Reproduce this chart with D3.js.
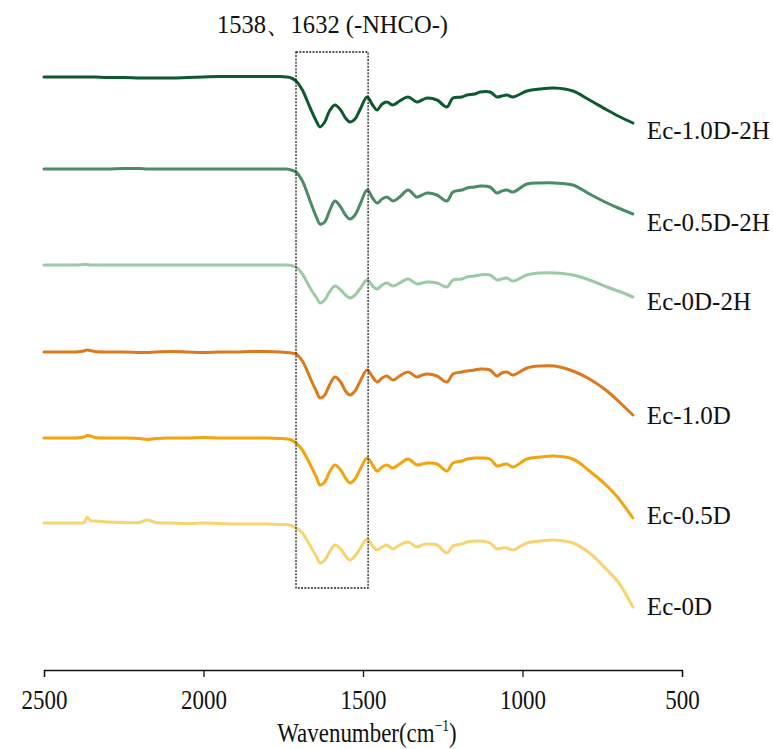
<!DOCTYPE html>
<html>
<head>
<meta charset="utf-8">
<script src="https://cdn.jsdelivr.net/npm/d3@7"></script>
<style>
  html, body { margin: 0; padding: 0; background: #fff; }
  svg { display: block; }
  text { font-family: "Liberation Serif", "Times New Roman", serif; fill: #111; }
</style>
</head>
<body>
<svg id="chart" width="773" height="749"></svg>
<script>
// FTIR spectra, offset-stacked (transmittance, arbitrary units)
const wavenumbers = [
  2500, 2450, 2400, 2375, 2365, 2355, 2340, 2300, 2250, 2200,
  2177, 2150, 2100, 2050, 2000, 1950, 1900, 1850, 1800, 1760,
  1740, 1725, 1710, 1690, 1676, 1660, 1645, 1635, 1620, 1605,
  1588, 1570, 1555, 1541, 1525, 1510, 1487, 1470, 1456, 1440,
  1425, 1406, 1385, 1359, 1331, 1315, 1299, 1268, 1237, 1218,
  1190, 1174, 1150, 1133, 1102, 1080, 1065, 1049, 1030, 986,
  945, 900, 842, 790, 735, 700, 654
];

const seriesNames = ["Ec-1.0D-2H", "Ec-0.5D-2H", "Ec-0D-2H", "Ec-1.0D", "Ec-0.5D", "Ec-0D"];
const seriesOffsets = [56.3, 47.1, 37.5, 28.8, 20.2, 11.7];
const seriesColors = ["#0e5a30", "#4c8b67", "#9ccaa4", "#db7a1b", "#f3a30e", "#f8d36e"];

const ec10D2H = [
  0, 0, 0, 0, 0, 0, 0, -0.05, -0.05, -0.1, -0.1, -0.1, -0.1, -0.05, 0, 0.05, 0.05, 0.05, 0.05, 0.05,
  0, -0.1, -0.4, -1.3, -2.3, -3.5, -4.5, -5.0, -4.5, -3.4,
  -2.8, -3.3, -4.1, -4.5, -4.2, -3.3, -2.0, -2.8, -3.3, -2.7,
  -2.5, -2.8, -2.4, -2.0, -2.5, -2.3, -2.1, -2.3, -3.0, -2.1,
  -2.0, -1.8, -1.7, -1.5, -1.5, -2.0, -1.9, -1.8, -2.0, -1.4,
  -1.2, -1.1, -1.4, -2.3, -3.3, -3.9, -4.6
];
const ec05D2H = [
  0, 0, 0, 0, 0, 0, 0, 0, 0.05, 0.05, 0, 0, 0, 0, 0, 0, 0, 0, 0, 0,
  0, -0.1, -0.3, -1.2, -2.3, -3.7, -4.9, -5.5, -5.3, -4.2,
  -3.2, -3.8, -4.6, -5.0, -4.6, -3.6, -2.1, -2.9, -3.4, -3.0,
  -2.8, -3.2, -2.8, -2.1, -2.8, -2.6, -2.4, -2.6, -3.2, -2.3,
  -2.1, -1.9, -1.8, -1.7, -1.8, -2.4, -2.2, -2.1, -2.3, -1.5,
  -1.4, -1.4, -1.6, -2.5, -3.4, -3.9, -4.5
];
const ec0D2H = [
  0, 0, 0, 0.05, 0.05, 0, 0, 0, 0, 0, 0, 0, 0, 0, 0, 0, 0, 0, 0, 0,
  0, -0.05, -0.2, -0.9, -1.7, -2.6, -3.3, -3.8, -3.5, -2.7,
  -2.1, -2.5, -3.0, -3.3, -3.0, -2.4, -1.5, -2.1, -2.4, -2.0,
  -1.8, -2.1, -1.8, -1.4, -1.9, -1.8, -1.7, -1.8, -2.2, -1.5,
  -1.4, -1.2, -1.1, -1.0, -1.0, -1.5, -1.4, -1.3, -1.6, -1.0,
  -0.8, -0.8, -1.0, -1.5, -2.2, -2.6, -3.2
];
const ec10D = [
  0, 0, 0, 0.1, 0.2, 0.15, 0.05, 0, 0, -0.05, -0.05, 0, 0.05, 0, -0.05, 0, 0, 0.05, 0.05, 0,
  -0.05, -0.1, -0.2, -0.9, -1.8, -3.0, -4.0, -4.6, -4.3, -3.3,
  -2.5, -3.0, -3.9, -4.3, -3.9, -3.0, -1.8, -2.5, -3.0, -2.6,
  -2.4, -2.8, -2.4, -2.0, -2.5, -2.3, -2.2, -2.4, -3.0, -2.2,
  -2.0, -1.9, -1.8, -1.7, -1.8, -2.4, -2.1, -2.0, -2.3, -1.6,
  -1.4, -1.4, -1.9, -2.7, -3.9, -4.9, -6.3
];
const ec05D = [
  0, 0, 0, 0.1, 0.25, 0.2, 0.05, 0, 0, -0.05, -0.15, -0.05, 0, 0, 0.05, 0, 0, 0, 0, -0.05,
  -0.1, -0.2, -0.5, -1.2, -2.0, -3.0, -4.0, -4.7, -4.4, -3.4,
  -2.7, -3.2, -4.0, -4.5, -4.1, -3.2, -2.0, -2.7, -3.3, -2.9,
  -2.7, -3.0, -2.6, -2.1, -2.7, -2.6, -2.5, -2.6, -3.3, -2.5,
  -2.3, -2.1, -2.0, -2.0, -2.1, -2.8, -2.7, -2.6, -2.9, -2.1,
  -1.9, -1.8, -2.1, -3.3, -4.8, -6.0, -8.0
];
const ec0D = [
  0, 0, 0, 0.05, 0.6, 0.25, 0.2, 0.1, 0.05, 0.05, 0.3, 0.05, 0, -0.05, 0, -0.05, -0.1, -0.1, -0.1, -0.15,
  -0.15, -0.25, -0.5, -1.0, -1.7, -2.6, -3.4, -4.0, -3.7, -2.9,
  -2.2, -2.6, -3.3, -3.7, -3.3, -2.6, -1.6, -2.3, -2.7, -2.4,
  -2.2, -2.6, -2.2, -1.9, -2.4, -2.2, -2.1, -2.2, -3.0, -2.3,
  -2.1, -1.9, -1.8, -1.8, -2.0, -2.6, -2.5, -2.5, -2.7, -2.0,
  -1.8, -1.7, -2.0, -3.0, -4.7, -5.9, -8.4
];
const seriesValues = [ec10D2H, ec05D2H, ec0D2H, ec10D, ec05D, ec0D];

// amide band region highlighted by the dotted frame
const bandRange = [1710, 1484];
const bandLevels = [5.2, 58.8];
const bandLabel = "1538\u30011632 (-NHCO-)";

const xTicks = [2500, 2000, 1500, 1000, 500];
const xTitle = "Wavenumber(cm";
const xTitleSup = "\u22121";

// layout
const svg = d3.select("#chart");
const x = d3.scaleLinear().domain([2500, 500]).range([44, 682]);
const y = d3.scaleLinear().domain([-3, 60]).range([670, 40]);
const labelDy = [16, 17, 13, 9, 6, 8];

// spectra
const line = d3.line()
  .x(d => x(d[0]))
  .y(d => y(d[1]))
  .curve(d3.curveCatmullRom.alpha(0.5));

seriesNames.forEach((name, i) => {
  const pts = wavenumbers.map((w, j) => [w, seriesOffsets[i] + seriesValues[i][j]]);
  svg.append("path")
    .datum(pts)
    .attr("d", line)
    .attr("fill", "none")
    .attr("stroke", seriesColors[i])
    .attr("stroke-width", 3)
    .attr("stroke-linejoin", "round")
    .attr("stroke-linecap", "round");

  const last = pts[pts.length - 1];
  svg.append("text")
    .attr("x", x(last[0]) + 14)
    .attr("y", y(last[1]) + labelDy[i])
    .attr("font-size", 25)
    .text(name);
});

// dotted frame around the amide bands
svg.append("rect")
  .attr("x", x(bandRange[0]))
  .attr("y", y(bandLevels[1]))
  .attr("width", x(bandRange[1]) - x(bandRange[0]))
  .attr("height", y(bandLevels[0]) - y(bandLevels[1]))
  .attr("fill", "none")
  .attr("stroke", "#222")
  .attr("stroke-width", 1.3)
  .attr("stroke-dasharray", "2,1.3");

svg.append("text")
  .attr("x", 217)
  .attr("y", 33)
  .attr("font-size", 26)
  .attr("textLength", 231)
  .attr("lengthAdjust", "spacingAndGlyphs")
  .text(bandLabel);

// x axis
const axis = d3.axisBottom(x)
  .tickValues(xTicks)
  .tickFormat(d3.format("d"))
  .tickSize(7)
  .tickSizeOuter(7)
  .tickPadding(12);

const gx = svg.append("g")
  .attr("transform", `translate(0,${y(-3)})`)
  .call(axis);
gx.select(".domain").attr("stroke", "#111").attr("stroke-width", 1.3);
gx.selectAll(".tick line").attr("stroke", "#111").attr("stroke-width", 1.3);
gx.selectAll(".tick text")
  .attr("font-size", 28)
  .attr("fill", "#111")
  .attr("transform", "scale(0.82,1)");

const title = svg.append("text")
  .attr("text-anchor", "middle")
  .attr("font-size", 27)
  .attr("transform", "translate(367,742) scale(0.85,1)");
title.append("tspan").text(xTitle);
title.append("tspan").attr("font-size", 16).attr("dy", -11).text(xTitleSup);
title.append("tspan").attr("dy", 11).text(")");
</script>
</body>
</html>
